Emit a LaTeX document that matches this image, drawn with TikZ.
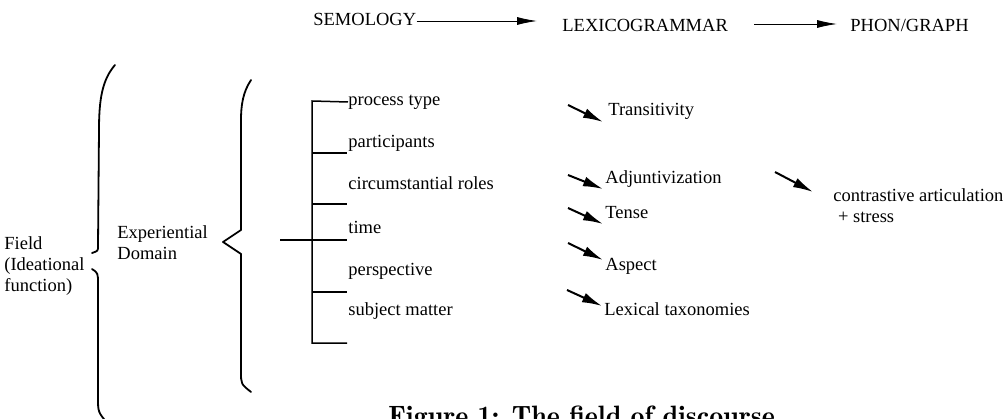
\documentclass[tikz,border=0pt]{standalone}
\usepackage{fontspec}
\setmainfont{Liberation Serif}
\usetikzlibrary{arrows.meta, positioning}

\begin{document}
\begin{tikzpicture}[x=1pt, y=-1pt, thick]
    % Style definitions
    \tikzset{label/.style={anchor=west, inner sep=0pt, text height=12pt, text depth=4pt, font=\fontsize{18.5}{21}\selectfont}}
    \tikzset{stack/.style={anchor=north west, inner sep=0pt, align=left, font=\fontsize{18.5}{21}\selectfont}}
    \tikzset{level/.style={label}}
    \tikzset{flow/.style={line width=0.9pt, -{Latex[length=20pt,width=8pt]}}}
    \tikzset{pointer/.style={line width=2pt, -{Latex[length=20pt,width=10pt]}}}
    \tikzset{brace/.style={line width=1.8pt, line cap=round, line join=round}}
    \tikzset{tree/.style={line width=1.5pt}}

    \useasboundingbox (0,0) rectangle (1008,419);
    \clip (0,0) rectangle (1008,419);

    % Levels
    \node [level] (sem) at (313,22) {SEMOLOGY};
    \node [level] (lex) at (562,28) {LEXICOGRAMMAR};
    \node [level] (phon) at (850,28) {PHON/GRAPH};

    % Left labels
    \node [stack] (field) at (4,236) {Field\\(Ideational\\function)};
    \node [stack] (exp) at (117,225) {Experiential\\Domain};

    % Semology items
    \node [label] (ptype) at (348,102) {process type};
    \node [label] (part) at (348,144) {participants};
    \node [label] (circ) at (348,186) {circumstantial roles};
    \node [label] (time) at (348,230) {time};
    \node [label] (persp) at (348,272) {perspective};
    \node [label] (subj) at (348,312) {subject matter};

    % Lexicogrammar items
    \node [label] (trans) at (608,112) {Transitivity};
    \node [label] (adj) at (605,180) {Adjuntivization};
    \node [label] (tense) at (605,215) {Tense};
    \node [label] (aspect) at (605,267) {Aspect};
    \node [label] (lexic) at (604,312) {Lexical taxonomies};

    % Phon/graph item
    \node [stack] (contr) at (833,188) {contrastive articulation\\\ + stress};

    % Caption
    \node [anchor=base west, inner sep=0pt, font=\fontfamily{lmr}\bfseries\fontsize{28}{32}\selectfont] (caption) at (388,425) {Figure 1: The field of discourse};

    % Braces
    \draw [brace] (115,65) .. controls (102,80) and (99,100) .. (99,130) -- (98,246) .. controls (98,251) .. (92,253);
    \draw [brace] (92,269) .. controls (98,273) .. (98,284) -- (98,398) .. controls (98,412) .. (108,424);
    \draw [brace] (251,80) .. controls (243,92) and (241,105) .. (241,120) -- (241,230) -- (223,242) -- (241,254) -- (241,372) .. controls (241,384) .. (251,392);

    % Bracket tree
    \coordinate (troot) at (280,240);
    \coordinate (ttop) at (312,101);
    \coordinate (tbot) at (312,343);
    \draw [tree] (ptype.west) -- (ttop) -- (tbot) -- ++(35,0);
    \foreach \y in {153,204,240,292}
        \draw [tree] (312,\y) -- ++(35,0);
    \draw [tree] (troot) -- (312,240);

    % Arrows
    \draw [flow, shorten >=25pt] ([yshift=1pt]sem.east) -- ([yshift=1pt]sem.east -| lex.west);
    \draw [flow, shorten <=26pt, shorten >=13pt] ([yshift=4pt]lex.east) -- ([yshift=4pt]phon.west);
    \draw [pointer] ([shift={(-40,-7)}]trans.west) -- ([shift={(-5,10)}]trans.west);
    \draw [pointer] ([shift={(-37,-5)}]adj.west) -- ([shift={(-2,9)}]adj.west);
    \draw [pointer] ([shift={(-37,-7)}]tense.west) -- ([shift={(-2,9)}]tense.west);
    \draw [pointer] ([shift={(-37,-24)}]aspect.west) -- ([shift={(-2,-7)}]aspect.west);
    \draw [pointer] ([shift={(-37,-22)}]lexic.west) -- ([shift={(-2,-6)}]lexic.west);
    \draw [pointer] ([shift={(-58,-16)}]contr.north west) -- ([shift={(-20,4)}]contr.north west);
\end{tikzpicture}
\end{document}
